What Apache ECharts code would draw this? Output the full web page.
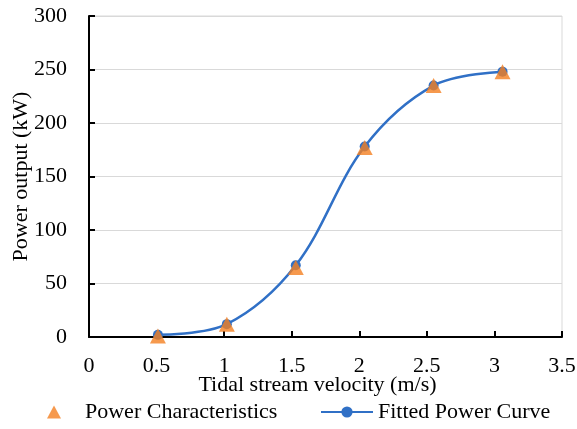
<!DOCTYPE html>
<html><head><meta charset="utf-8">
<script src="https://cdn.jsdelivr.net/npm/echarts@6/dist/echarts.min.js"></script>
<style>html,body{margin:0;padding:0;background:#fff}#c{width:577px;height:429px}</style>
</head><body><div id="c"></div>
<script>
const velocity = [0.51, 1.02, 1.53, 2.04, 2.55, 3.06];
const powerChar = [1, 12, 65, 177, 235, 248];
const fittedCurve = [2, 12, 67, 178, 235, 248];
const xTicks = { min: 0, max: 3.5, interval: 0.5 };
const yTicks = { min: 0, max: 300, interval: 50 };

const font = 'Liberation Serif';
const chart = echarts.init(document.getElementById('c'));
chart.setOption({
  animation: false,
  backgroundColor: '#fff',
  grid: { left: 89, right: 15, top: 16, bottom: 92, show: true, borderColor: '#d9d9d9', borderWidth: 1,
          containLabel: false, outerBoundsMode: 'none' },
  xAxis: {
    type: 'value', min: xTicks.min, max: xTicks.max, interval: xTicks.interval,
    name: 'Tidal stream velocity (m/s)', nameLocation: 'middle', nameGap: 37, nameMoveOverlap: false,
    nameTextStyle: { fontFamily: font, fontSize: 22, color: '#000', padding: [0, 16, 0, 0] },
    axisLine: { lineStyle: { color: '#000', width: 2 } },
    axisTick: { inside: true, length: 6, lineStyle: { color: '#000', width: 2 } },
    axisLabel: { fontFamily: font, fontSize: 22, color: '#000', margin: 18 },
    splitLine: { show: false }
  },
  yAxis: {
    type: 'value', min: yTicks.min, max: yTicks.max, interval: yTicks.interval,
    name: 'Power output (kW)', nameLocation: 'middle', nameGap: 57, nameMoveOverlap: false,
    nameTextStyle: { fontFamily: font, fontSize: 22, color: '#000' },
    axisLine: { show: true, lineStyle: { color: '#000', width: 2 } },
    axisTick: { show: true, inside: true, length: 6, lineStyle: { color: '#000', width: 2 } },
    axisLabel: { fontFamily: font, fontSize: 22, color: '#000', margin: 22 },
    splitLine: { show: true, lineStyle: { color: '#d9d9d9', width: 1 } }
  },
  legend: [
    { left: 47, top: 401, padding: 0, data: [{ name: 'Power Characteristics', icon: 'triangle' }], itemWidth: 14, itemHeight: 13,
      textStyle: { fontFamily: font, fontSize: 22, color: '#000', padding: [0, 0, 0, 19] } },
    { left: 320, top: 401, padding: 0, data: ['Fitted Power Curve'], itemWidth: 52, itemHeight: 14,
      textStyle: { fontFamily: font, fontSize: 22, color: '#000' } }
  ],
  series: [
    { name: 'Fitted Power Curve', type: 'line', smooth: 0.35, z: 2,
      data: velocity.map((v, i) => [v, fittedCurve[i]]),
      symbol: 'circle', symbolSize: 10,
      lineStyle: { color: '#3070C6', width: 2.5 },
      itemStyle: { color: '#3070C6' } },
    { name: 'Power Characteristics', type: 'scatter', z: 3,
      data: velocity.map((v, i) => [v, powerChar[i]]),
      symbol: 'triangle', symbolSize: [16, 15],
      itemStyle: { color: '#F47F20' } }
  ]
});
</script></body></html>
